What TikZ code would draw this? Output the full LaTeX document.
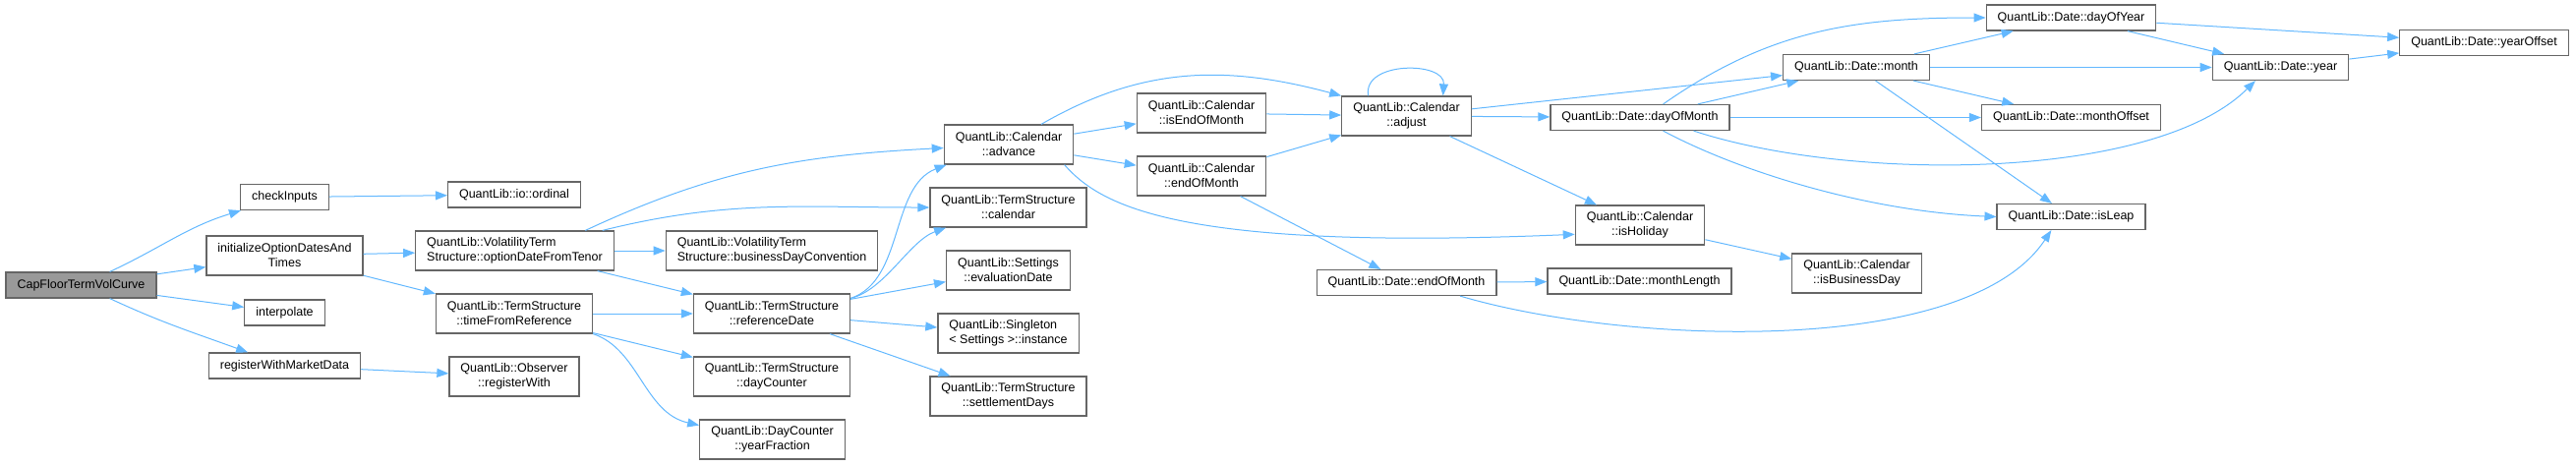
\documentclass[tikz,border=0pt]{standalone}
\usepackage{fontspec}
\setmainfont{Liberation Sans}
\usetikzlibrary{arrows.meta, positioning}
\definecolor{edge}{RGB}{99,184,255}
\definecolor{border}{RGB}{102,102,102}
\definecolor{rootfill}{RGB}{153,153,153}
\tikzstyle{arrow} = [draw=edge, line width=0.5pt, -{Triangle[length=6pt,width=4.5pt]}]
\tikzstyle{fn} = [rectangle, draw=border, fill=white, line width=0.6pt, font=\fontsize{6.25}{7.5}\selectfont, inner xsep=5.75pt, inner ysep=0pt, minimum height=13pt, align=center]
\tikzstyle{fntwo} = [fn, minimum height=20pt]
\tikzstyle{root} = [fn, fill=rootfill]
\begin{document}
\begin{tikzpicture}[x=0.5pt, y=0.5pt]
    \useasboundingbox (0,0) rectangle (2620,-473);
    \node (cap) [root] at (82.5,-290) {CapFloorTermVolCurve};
    \node (chk) [fn] at (289.5,-200.5) {checkInputs};
    \node (init) [fntwo] at (289.5,-260) {initializeOptionDatesAnd\\Times};
    \node (interp) [fn] at (289.5,-318) {interpolate};
    \node (reg) [fn] at (289.5,-372) {registerWithMarketData};
    \node (ord) [fn] at (523,-198) {QuantLib::io::ordinal};
    \node (odft) [fntwo, align=left] at (523.5,-255) {QuantLib::VolatilityTerm\\Structure::optionDateFromTenor};
    \node (bdc) [fntwo, align=left] at (785,-255) {QuantLib::VolatilityTerm\\Structure::businessDayConvention};
    \node (tfr) [fntwo] at (523,-319) {QuantLib::TermStructure\\::timeFromReference};
    \node (refd) [fntwo] at (785,-319) {QuantLib::TermStructure\\::referenceDate};
    \node (regw) [fntwo] at (523,-383) {QuantLib::Observer\\::registerWith};
    \node (dayc) [fntwo] at (785,-383) {QuantLib::TermStructure\\::dayCounter};
    \node (yfr) [fntwo] at (785.5,-447) {QuantLib::DayCounter\\::yearFraction};
    \node (adv) [fntwo] at (1026,-147) {QuantLib::Calendar\\::advance};
    \node (cal) [fntwo] at (1025.5,-211) {QuantLib::TermStructure\\::calendar};
    \node (evald) [fntwo] at (1025.5,-275) {QuantLib::Settings\\::evaluationDate};
    \node (inst) [fntwo, align=left] at (1025.5,-339) {QuantLib::Singleton\\< Settings >::instance};
    \node (sett) [fntwo] at (1025.5,-403) {QuantLib::TermStructure\\::settlementDays};
    \node (iseom) [fntwo] at (1222,-115) {QuantLib::Calendar\\::isEndOfMonth};
    \node (ceom) [fntwo] at (1222,-179) {QuantLib::Calendar\\::endOfMonth};
    \node (adj) [fntwo] at (1430.5,-118) {QuantLib::Calendar\\::adjust};
    \node (deom) [fn] at (1430.5,-287.5) {QuantLib::Date::endOfMonth};
    \node (dom) [fn] at (1668,-119.5) {QuantLib::Date::dayOfMonth};
    \node (mon) [fn] at (1888,-68.5) {QuantLib::Date::month};
    \node (hol) [fntwo] at (1668,-229) {QuantLib::Calendar\\::isHoliday};
    \node (mlen) [fn] at (1667.5,-286) {QuantLib::Date::monthLength};
    \node (bday) [fntwo] at (1888.5,-278) {QuantLib::Calendar\\::isBusinessDay};
    \node (doy) [fn] at (2106.5,-18) {QuantLib::Date::dayOfYear};
    \node (moff) [fn] at (2106.5,-119.5) {QuantLib::Date::monthOffset};
    \node (leap) [fn] at (2106.5,-220.5) {QuantLib::Date::isLeap};
    \node (year) [fn] at (2319.5,-68.5) {QuantLib::Date::year};
    \node (yoff) [fn] at (2526.5,-43.5) {QuantLib::Date::yearOffset};

    \draw [arrow] (cap.25) to[out=25,in=197] (chk.197);
    \draw [arrow] (cap) -- (init);
    \draw [arrow] (cap) -- (interp);
    \draw [arrow] (cap.-25) to[out=-25,in=160] (reg.160);
    \draw [arrow] (chk) -- (ord);
    \draw [arrow] (init) -- (odft);
    \draw [arrow] (init) -- (tfr);
    \draw [arrow] (reg) -- (regw);
    \draw [arrow] (odft.16) to[out=25,in=183] (adv.183);
    \draw [arrow] (odft.13) to[out=14,in=180] (cal.180);
    \draw [arrow] (odft) -- (bdc);
    \draw [arrow] (odft) -- (refd);
    \draw [arrow] (tfr) -- (refd);
    \draw [arrow] (tfr) -- (dayc);
    \draw [arrow] (tfr.south east) .. controls (650,-355) and (655,-420) .. (yfr.169);
    \draw [arrow] (refd.11) .. controls (920,-285) and (905,-190) .. (adv.198);
    \draw [arrow] (refd.11) .. controls (900,-295) and (925,-245) .. (cal.198);
    \draw [arrow] (refd) -- (evald);
    \draw [arrow] (refd) -- (inst);
    \draw [arrow] (refd) -- (sett);
    \draw [arrow] (adv) -- (iseom);
    \draw [arrow] (adv) -- (ceom);
    \draw [arrow] (adv.32) to[out=30,in=165] (adj.north west);
    \draw [arrow] (adv.-20) .. controls (1120,-210) and (1200,-255) .. (hol.188);
    \draw [arrow] (iseom) -- (adj);
    \draw [arrow] (ceom) -- (adj);
    \draw [arrow] (ceom) -- (deom);
    \draw [arrow] (adj.152) .. controls (1385,-62) and (1470,-62) .. (adj.29);
    \draw [arrow] (adj) -- (mon);
    \draw [arrow] (adj) -- (dom);
    \draw [arrow] (adj) -- (hol);
    \draw [arrow] (dom.30) to[out=35,in=180] (doy);
    \draw [arrow] (dom) -- (mon);
    \draw [arrow] (dom) -- (moff);
    \draw [arrow] (dom.-14) .. controls (1880,-185) and (2190,-185) .. (year.208);
    \draw [arrow] (dom.-30) .. controls (1770,-175) and (1900,-215) .. (leap.west);
    \draw [arrow] (mon) -- (doy);
    \draw [arrow] (mon) -- (year);
    \draw [arrow] (mon) -- (moff);
    \draw [arrow] (mon) -- (leap);
    \draw [arrow] (doy) -- (year);
    \draw [arrow] (doy) -- (yoff);
    \draw [arrow] (year) -- (yoff);
    \draw [arrow] (hol) -- (bday);
    \draw [arrow] (deom) -- (mlen);
    \draw [arrow] (deom.-14) .. controls (1650,-350) and (2000,-365) .. (leap.214);
\end{tikzpicture}
\end{document}
